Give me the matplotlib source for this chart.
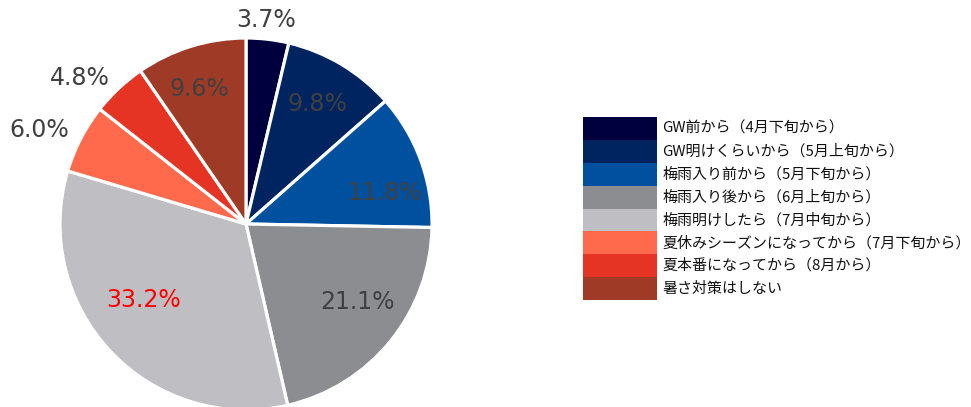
import matplotlib
matplotlib.use("Agg")
import matplotlib.pyplot as plt
import numpy as np

labels = ["GW前から（4月下旬から）", "GW明けくらいから（5月上旬から）", "梅雨入り前から（5月下旬から）",
          "梅雨入り後から（6月上旬から）", "梅雨明けしたら（7月中旬から）",
          "夏休みシーズンになってから（7月下旬から）", "夏本番になってから（8月から）", "暑さ対策はしない"]
values = [3.7, 9.8, 11.8, 21.1, 33.2, 6.0, 4.8, 9.6]
colors = ["#00003F", "#00245F", "#0050A0", "#8C8D91", "#BFBFC3", "#FF6A4D", "#E53424", "#9E3A26"]

# label placement: radius (fraction of pie radius), angle shift (deg) and text colour
label_r = [1.10, 0.75, 0.765, 0.73, 0.685, 1.22, 1.19, 0.77]
label_da = [1.0, 0.0, -7.6, 4.0, -6.5, 3.0, 5.6, 1.7]
label_c = ["#404040"] * 8
label_c[4] = "#FF0000"

fig = plt.figure(figsize=(9.71, 4.07), dpi=100)
W, H = 971, 407
cx, cy, r = 246, 224, 186
ax = fig.add_axes([(cx - r) / W, (H - cy - r) / H, 2 * r / W, 2 * r / H])
wedges, _ = ax.pie(values, colors=colors, startangle=90, counterclock=False, radius=1,
                   wedgeprops=dict(edgecolor="white", linewidth=2.3))
for w in wedges:
    w.set_clip_on(False)
ax.set_xlim(-1, 1)
ax.set_ylim(-1, 1)
ax.axis("off")

total = sum(values)
start = 90.0
for v, lr, da, lc in zip(values, label_r, label_da, label_c):
    mid = np.deg2rad(start - v / total * 360 / 2 + da)
    start -= v / total * 360
    ax.text(lr * np.cos(mid), lr * np.sin(mid), f"{v:.1f}%", ha="center", va="center",
            fontsize=17, color=lc, family="DejaVu Sans", clip_on=False)

# legend
lx0, lx1, ly0, ly1 = 583, 657, 117, 300
lax = fig.add_axes([lx0 / W, (H - ly1) / H, (lx1 - lx0) / W, (ly1 - ly0) / H])
n = len(labels)
lax.barh(range(n), [1] * n, height=1, left=0, color=colors)
lax.set_xlim(0, 1)
lax.set_ylim(n - 0.5, -0.5)
lax.axis("off")
for i, lab in enumerate(labels):
    lax.text(1.07, i, lab, ha="left", va="center", fontsize=10.8, color="#111111",
             family=["Noto Sans CJK JP", "DejaVu Sans"], clip_on=False)

fig.savefig("out.png", dpi=100)
